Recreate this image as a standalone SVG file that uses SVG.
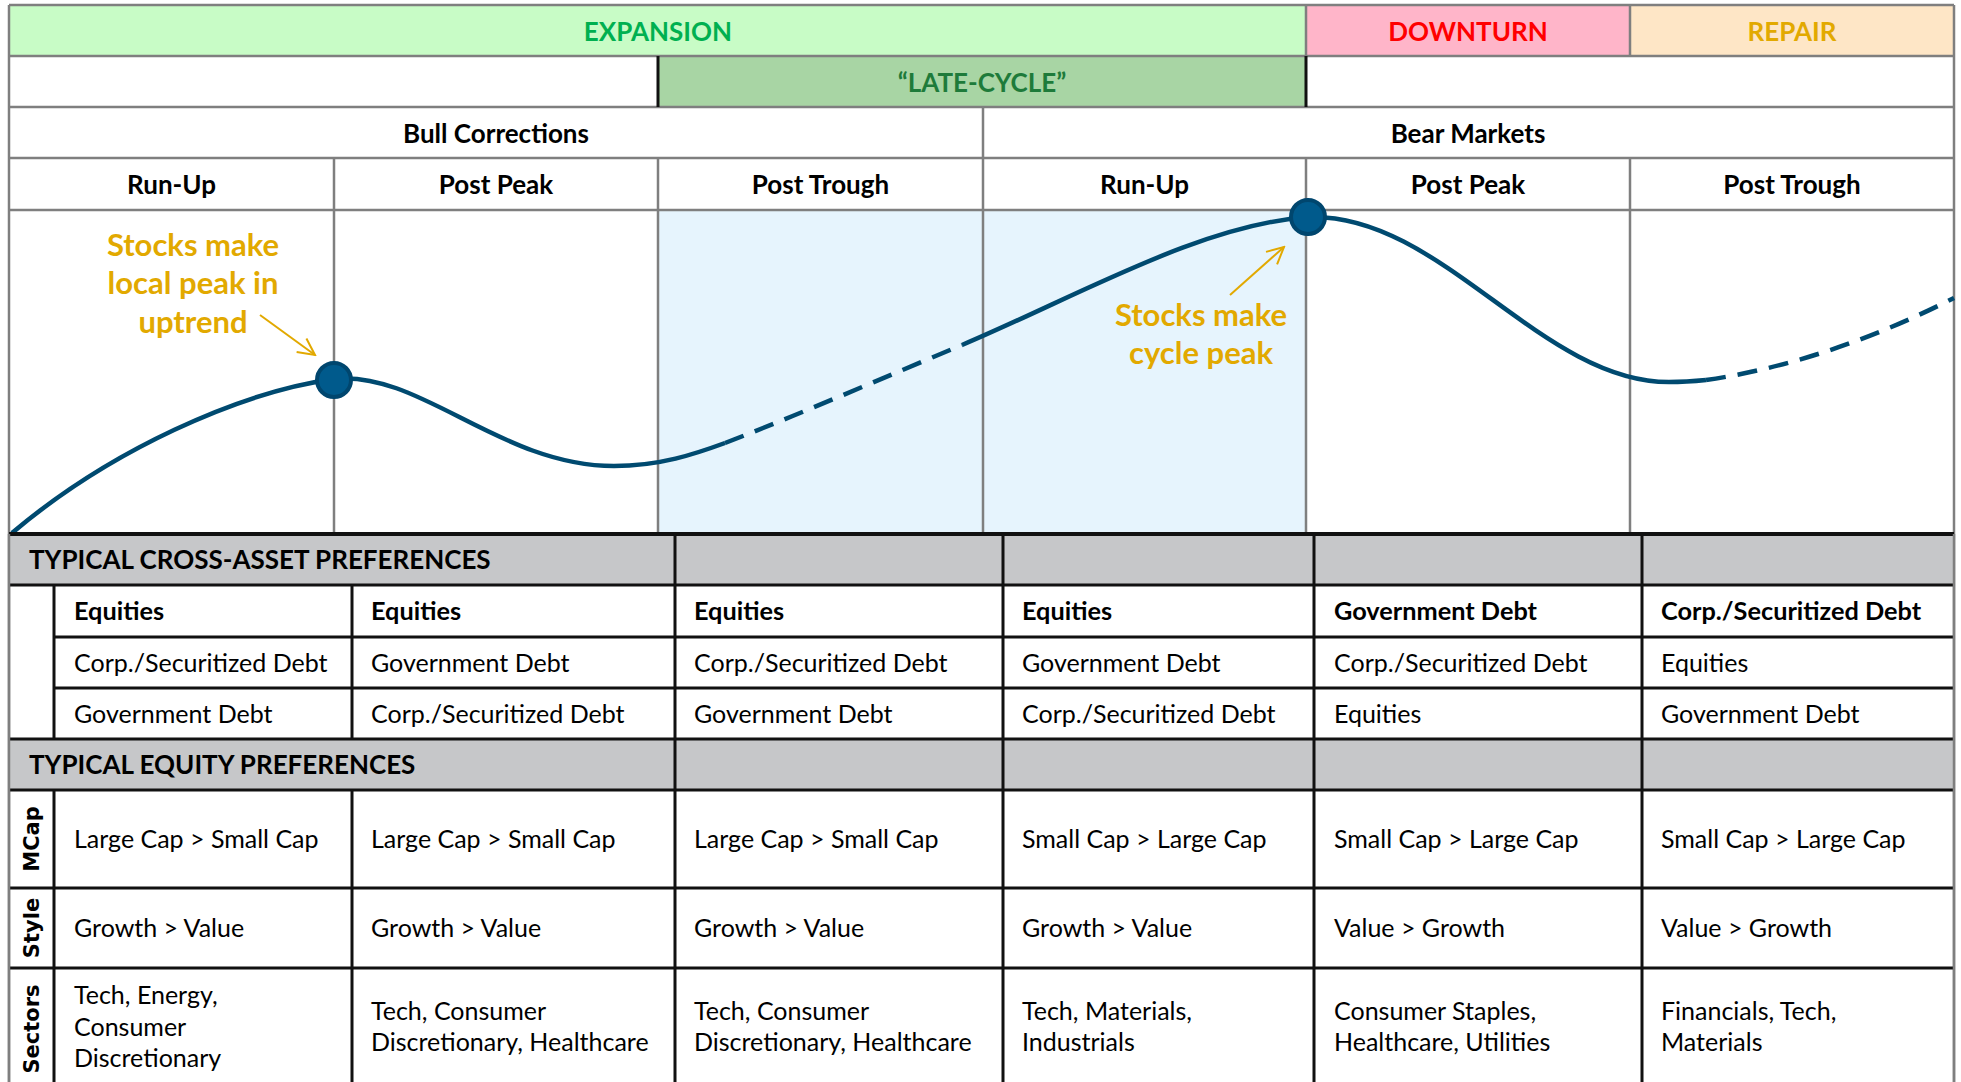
<svg xmlns="http://www.w3.org/2000/svg" width="1961" height="1082" viewBox="0 0 1961 1082">
<defs>
<style>
.grid{stroke:#7f7f7f;stroke-width:2.5;fill:none}
.blk{stroke:#111;stroke-width:3;fill:none}
.hd{font-family:Lato,"Liberation Sans",sans-serif;font-weight:bold;font-size:26px;text-anchor:middle;fill:#000}
.tb{font-family:Lato,"Liberation Sans",sans-serif;font-size:25px;fill:#000}
.tbb{font-family:Lato,"Liberation Sans",sans-serif;font-size:25.3px;font-weight:bold;fill:#000}
.sec{font-family:Lato,"Liberation Sans",sans-serif;font-size:26px;font-weight:bold;fill:#000}
.rot{font-family:"DejaVu Sans","Liberation Sans",sans-serif;font-size:21px;font-weight:bold;text-anchor:middle;fill:#000}
.ann{font-family:Lato,"Liberation Sans",sans-serif;font-size:31px;font-weight:bold;text-anchor:middle;fill:#e2a900}
.curve{stroke:#004a70;stroke-width:4.5;fill:none;stroke-linecap:butt}
.dash{stroke-dasharray:20 12}
.dot{fill:#005a8c;stroke:#00466e;stroke-width:4}
.arr{stroke:#e2a900;stroke-width:2;fill:none;marker-end:url(#ah)}
</style>
<marker id="ah" viewBox="0 0 12 12" refX="11" refY="6" markerWidth="10" markerHeight="10" markerUnits="strokeWidth" orient="auto">
<path d="M1,1 L11,6 L1,11" fill="none" stroke="#e2a900" stroke-width="1.2"/>
</marker>
</defs>
<rect x="0" y="0" width="1961" height="1082" fill="#fff"/>

<g id="phase-row">
<rect x="9" y="5" width="1297" height="51" fill="#c8fcc6"/>
<rect x="1306" y="5" width="324" height="51" fill="#ffb5c9"/>
<rect x="1630" y="5" width="324" height="51" fill="#fee6c6"/>
<text class="hd" x="658" y="41" style="fill:#00b050">EXPANSION</text>
<text class="hd" x="1468" y="41" style="fill:#ff0000">DOWNTURN</text>
<text class="hd" x="1792" y="41" style="fill:#e2a900">REPAIR</text>
</g>

<g id="late-cycle">
<rect x="658" y="56" width="648" height="51" fill="#a8d5a4"/>
<text class="hd" x="982" y="92" style="fill:#1e7b3a">“LATE-CYCLE”</text>
</g>

<g id="market-type">
<text class="hd" x="496" y="143">Bull Corrections</text>
<text class="hd" x="1468" y="143">Bear Markets</text>
</g>

<g id="stages">
<text class="hd" x="171.5" y="194">Run-Up</text>
<text class="hd" x="496" y="194">Post Peak</text>
<text class="hd" x="820.5" y="194">Post Trough</text>
<text class="hd" x="1144.5" y="194">Run-Up</text>
<text class="hd" x="1468" y="194">Post Peak</text>
<text class="hd" x="1792" y="194">Post Trough</text>
</g>

<g id="chart">
<rect x="658" y="210" width="648" height="323" fill="#e6f4fd"/>
</g>

<g id="upper-grid">
<line class="grid" x1="9" y1="5" x2="1954" y2="5"/>
<line class="grid" x1="9" y1="56" x2="1954" y2="56"/>
<line class="grid" x1="9" y1="107" x2="1954" y2="107"/>
<line class="grid" x1="9" y1="158" x2="1954" y2="158"/>
<line class="grid" x1="9" y1="210" x2="1954" y2="210"/>
<line class="grid" x1="9" y1="5" x2="9" y2="1082"/>
<line class="grid" x1="1954" y1="5" x2="1954" y2="1082"/>
<line class="grid" x1="1306" y1="5" x2="1306" y2="56"/>
<line class="grid" x1="1630" y1="5" x2="1630" y2="56"/>
<line class="blk" x1="658" y1="56" x2="658" y2="107"/>
<line class="blk" x1="1306" y1="56" x2="1306" y2="107"/>
<line class="grid" x1="983" y1="107" x2="983" y2="158"/>
<line class="grid" x1="334" y1="158" x2="334" y2="533"/>
<line class="grid" x1="658" y1="158" x2="658" y2="533"/>
<line class="grid" x1="983" y1="158" x2="983" y2="533"/>
<line class="grid" x1="1306" y1="158" x2="1306" y2="533"/>
<line class="grid" x1="1630" y1="158" x2="1630" y2="533"/>
</g>

<g id="cycle-curve">
<path class="curve" d="M12,533 C110,450 240,392 334,379 C420,370 500,466 614,466 C660,466 695,454 725,443"/>
<path class="curve dash" d="M725,443 C805,412 885,377 962,345"/>
<path class="curve" d="M962,345 C1080,295 1200,225 1308,217 C1440,212 1540,382 1669,382 C1685,382 1696,381 1706,380"/>
<path class="curve dash" d="M1706,380 C1790,368 1875,338 1954,298"/>
</g>

<g id="local-peak">
<ellipse class="dot" cx="334" cy="380" rx="17" ry="17"/>
<text class="ann" x="193" y="256">Stocks make</text>
<text class="ann" x="193" y="294">local peak in</text>
<text class="ann" x="193" y="333">uptrend</text>
</g>

<g id="cycle-peak">
<ellipse class="dot" cx="1308" cy="217" rx="17" ry="17"/>
<text class="ann" x="1201" y="326">Stocks make</text>
<text class="ann" x="1201" y="364">cycle peak</text>
</g>

<g id="connectors">
<line class="arr" x1="260" y1="315" x2="315" y2="355"/>
<line class="arr" x1="1230" y1="295" x2="1284" y2="247"/>
</g>

<g id="lower-table">
<rect x="9" y="534" width="1945" height="51" fill="#c6c7c9"/>
<rect x="9" y="739" width="1945" height="51" fill="#c6c7c9"/>
<line class="blk" x1="9" y1="534" x2="1954" y2="534" style="stroke-width:4"/>
<line class="blk" x1="9" y1="585" x2="1954" y2="585"/>
<line class="blk" x1="54" y1="637" x2="1954" y2="637"/>
<line class="blk" x1="54" y1="688" x2="1954" y2="688"/>
<line class="blk" x1="9" y1="739" x2="1954" y2="739"/>
<line class="blk" x1="9" y1="790" x2="1954" y2="790"/>
<line class="blk" x1="9" y1="888" x2="1954" y2="888"/>
<line class="blk" x1="9" y1="968" x2="1954" y2="968"/>
<line class="blk" x1="54" y1="585" x2="54" y2="739"/>
<line class="blk" x1="54" y1="790" x2="54" y2="1082"/>
<line class="blk" x1="352" y1="585" x2="352" y2="739"/>
<line class="blk" x1="352" y1="790" x2="352" y2="1082"/>
<line class="blk" x1="675" y1="534" x2="675" y2="1082"/>
<line class="blk" x1="1003" y1="534" x2="1003" y2="1082"/>
<line class="blk" x1="1314" y1="534" x2="1314" y2="1082"/>
<line class="blk" x1="1642" y1="534" x2="1642" y2="1082"/>
<line class="grid" x1="9" y1="534" x2="9" y2="1082"/>
<line class="grid" x1="1954" y1="534" x2="1954" y2="1082"/>
</g>

<g id="cross-asset">
<text class="sec" x="29" y="569">TYPICAL CROSS-ASSET PREFERENCES</text>
<text class="tbb" x="74" y="620">Equities</text>
<text class="tbb" x="371" y="620">Equities</text>
<text class="tbb" x="694" y="620">Equities</text>
<text class="tbb" x="1022" y="620">Equities</text>
<text class="tbb" x="1334" y="620">Government Debt</text>
<text class="tbb" x="1661" y="620">Corp./Securitized Debt</text>
<text class="tb" x="74" y="672">Corp./Securitized Debt</text>
<text class="tb" x="371" y="672">Government Debt</text>
<text class="tb" x="694" y="672">Corp./Securitized Debt</text>
<text class="tb" x="1022" y="672">Government Debt</text>
<text class="tb" x="1334" y="672">Corp./Securitized Debt</text>
<text class="tb" x="1661" y="672">Equities</text>
<text class="tb" x="74" y="723">Government Debt</text>
<text class="tb" x="371" y="723">Corp./Securitized Debt</text>
<text class="tb" x="694" y="723">Government Debt</text>
<text class="tb" x="1022" y="723">Corp./Securitized Debt</text>
<text class="tb" x="1334" y="723">Equities</text>
<text class="tb" x="1661" y="723">Government Debt</text>
</g>

<g id="equity-prefs">
<text class="sec" x="29" y="774">TYPICAL EQUITY PREFERENCES</text>
<text class="rot" transform="translate(39,839) rotate(-90)">MCap</text>
<text class="rot" transform="translate(39,928) rotate(-90)">Style</text>
<text class="rot" transform="translate(39,1029) rotate(-90)">Sectors</text>
<text class="tb" x="74" y="848">Large Cap &gt; Small Cap</text>
<text class="tb" x="371" y="848">Large Cap &gt; Small Cap</text>
<text class="tb" x="694" y="848">Large Cap &gt; Small Cap</text>
<text class="tb" x="1022" y="848">Small Cap &gt; Large Cap</text>
<text class="tb" x="1334" y="848">Small Cap &gt; Large Cap</text>
<text class="tb" x="1661" y="848">Small Cap &gt; Large Cap</text>
<text class="tb" x="74" y="937">Growth &gt; Value</text>
<text class="tb" x="371" y="937">Growth &gt; Value</text>
<text class="tb" x="694" y="937">Growth &gt; Value</text>
<text class="tb" x="1022" y="937">Growth &gt; Value</text>
<text class="tb" x="1334" y="937">Value &gt; Growth</text>
<text class="tb" x="1661" y="937">Value &gt; Growth</text>
<text class="tb" x="74" y="1004">Tech, Energy,</text>
<text class="tb" x="74" y="1036">Consumer</text>
<text class="tb" x="74" y="1067">Discretionary</text>
<text class="tb" x="371" y="1020">Tech, Consumer</text>
<text class="tb" x="371" y="1051">Discretionary, Healthcare</text>
<text class="tb" x="694" y="1020">Tech, Consumer</text>
<text class="tb" x="694" y="1051">Discretionary, Healthcare</text>
<text class="tb" x="1022" y="1020">Tech, Materials,</text>
<text class="tb" x="1022" y="1051">Industrials</text>
<text class="tb" x="1334" y="1020">Consumer Staples,</text>
<text class="tb" x="1334" y="1051">Healthcare, Utilities</text>
<text class="tb" x="1661" y="1020">Financials, Tech,</text>
<text class="tb" x="1661" y="1051">Materials</text>
</g>
</svg>
